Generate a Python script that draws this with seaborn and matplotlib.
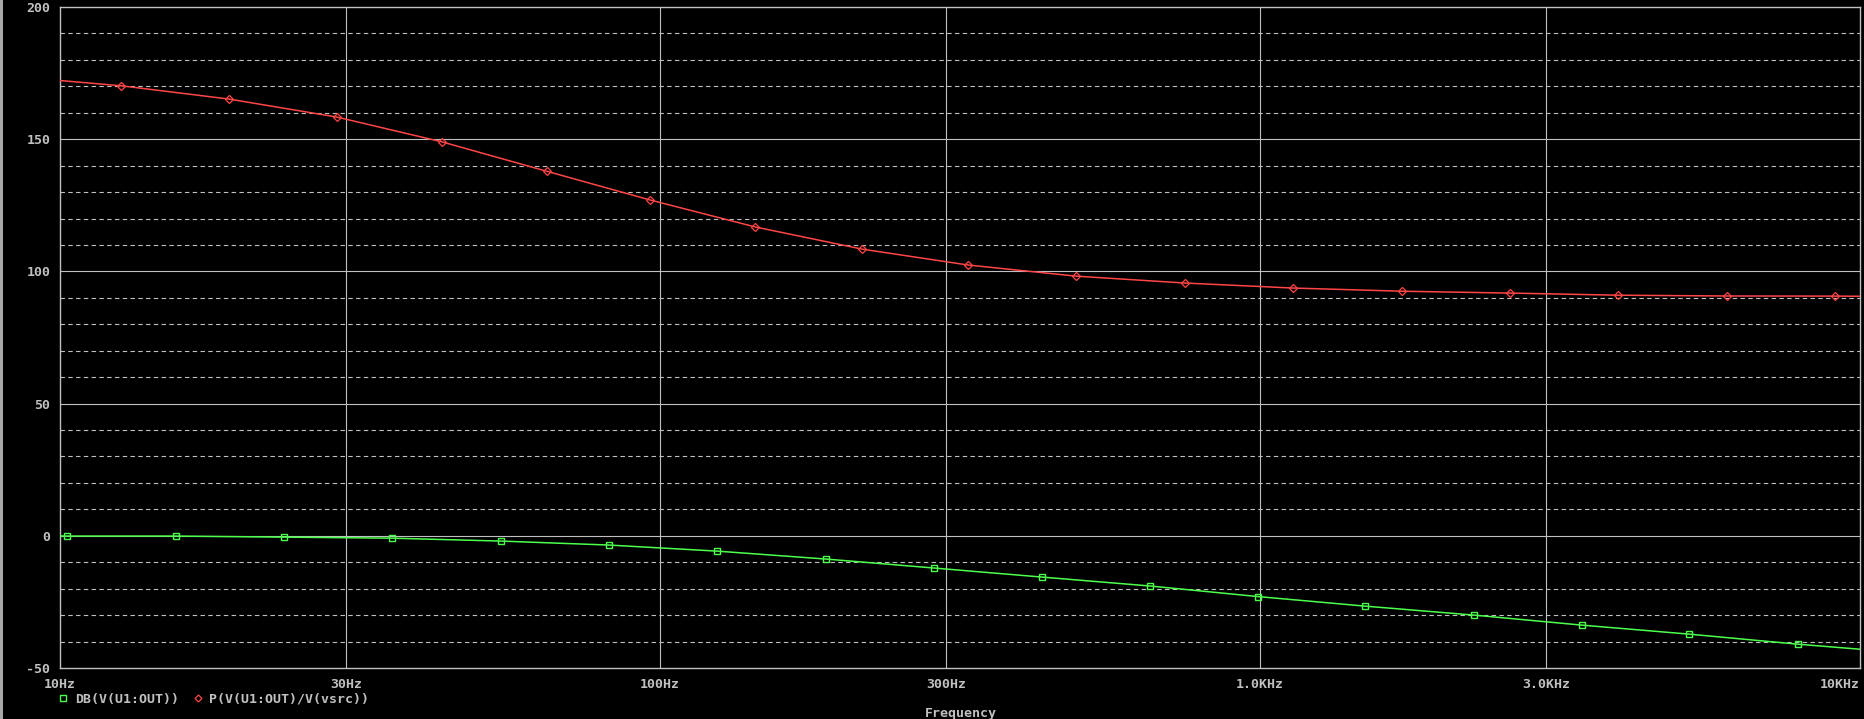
import numpy as np
import pandas as pd
import seaborn as sns
import matplotlib
matplotlib.use("Agg")
import matplotlib.pyplot as plt
from matplotlib.lines import Line2D
from matplotlib.patches import Rectangle
from matplotlib.ticker import FixedLocator, NullLocator

# magnitude trace DB(V(U1:OUT)) (first/last rows are the curve ends)
db_freq = [10, 10.28, 15.6, 23.6, 35.8, 54.4, 82.2, 124.6, 189.2, 286.6, 432.5,
           656.6, 993.6, 1497, 2275, 3446, 5196, 7884, 10000]
db_val = [-0.05, -0.1, -0.1, -0.5, -0.9, -2.0, -3.5, -5.8, -8.8, -12.2, -15.6,
          -19.0, -23.0, -26.6, -30.0, -33.8, -37.2, -41.0, -42.9]

# phase trace P(V(U1:OUT)/V(vsrc))
ph_freq = [10, 12.65, 19.1, 28.9, 43.3, 64.7, 96.3, 144.2, 217.5, 326.6, 494,
           750, 1136, 1725, 2610, 3953, 5998, 9088, 10000]
ph_val = [172.2, 170.2, 165.2, 158.4, 149.0, 137.9, 127.0, 116.8, 108.4, 102.4, 98.2,
          95.6, 93.7, 92.5, 91.8, 91.0, 90.7, 90.65, 90.6]

xtick_vals = [10, 30, 100, 300, 1000, 3000, 10000]
xtick_labels = ["10Hz", "30Hz", "100Hz", "300Hz", "1.0KHz", "3.0KHz", "10KHz"]
ytick_vals = [-50, 0, 50, 100, 150, 200]
legend_labels = ["DB(V(U1:OUT))", "P(V(U1:OUT)/V(vsrc))"]

green = "#4dff4d"
red = "#ff4646"
grey = "#c0c0c0"
mono = "DejaVu Sans Mono"

df_db = pd.DataFrame({"freq": db_freq, "val": db_val})
df_ph = pd.DataFrame({"freq": ph_freq, "val": ph_val})

sns.set_style("dark")
plt.rcParams["font.family"] = [mono]

W, H = 1864, 719
fig = plt.figure(figsize=(W / 100, H / 100), dpi=100, facecolor="black")
ax = fig.add_axes([60 / W, (H - 668) / H, 1800 / W, 661 / H])
ax.set_facecolor("black")

ax.set_xscale("log")
ax.set_xlim(10, 10000)
ax.set_ylim(-50, 200)

# grid: solid major lines, dashed every 10 units on y
for yv in range(-40, 200, 10):
    if yv % 50 != 0:
        ax.axhline(yv, color=grey, lw=0.8, ls=(0, (4, 3)), zorder=1)
for yv in ytick_vals[1:-1]:
    ax.axhline(yv, color=grey, lw=0.8, zorder=1)
for xv in xtick_vals[1:-1]:
    ax.axvline(xv, color=grey, lw=0.8, zorder=1)

sns.lineplot(data=df_db, x="freq", y="val", ax=ax, color=green, lw=1.1,
             marker="s", markersize=4.5, markerfacecolor="none",
             markeredgecolor=green, markeredgewidth=1.0,
             markevery=slice(1, -1), zorder=3, estimator=None)
sns.lineplot(data=df_ph, x="freq", y="val", ax=ax, color=red, lw=1.1,
             marker="D", markersize=4, markerfacecolor="none",
             markeredgecolor=red, markeredgewidth=0.9,
             markevery=slice(1, -1), zorder=3, estimator=None)

ax.xaxis.set_major_locator(FixedLocator(xtick_vals))
ax.xaxis.set_minor_locator(NullLocator())
ax.set_xticklabels(xtick_labels)
ax.set_yticks(ytick_vals)
ax.set_yticklabels([str(v) for v in ytick_vals])
ax.tick_params(axis="both", colors=grey, length=5, width=0.8, direction="out",
               labelsize=9.5, pad=2)
for lab in ax.get_xticklabels() + ax.get_yticklabels():
    lab.set_fontweight("bold")
ax.get_xticklabels()[-1].set_horizontalalignment("right")
ax.get_xticklabels()[-1].set_x(10000)

ax.set_xlabel("")
ax.set_ylabel("")
for sp in ax.spines.values():
    sp.set_visible(True)
    sp.set_color(grey)
    sp.set_linewidth(1.0)
ax.grid(False)

fig.text(961 / W, 1 - 713 / H, "Frequency", color=grey, fontsize=9.5,
         fontweight="bold", ha="center", va="center")

handles = [Line2D([], [], ls="none", marker="s", markersize=4.5, markerfacecolor="none",
                  markeredgecolor=green, markeredgewidth=1.0),
           Line2D([], [], ls="none", marker="D", markersize=3.5, markerfacecolor="none",
                  markeredgecolor=red, markeredgewidth=0.9)]
leg = fig.legend(handles, legend_labels, loc="center left",
                 bbox_to_anchor=(58 / W, 1 - 699 / H), ncol=2, frameon=False,
                 handlelength=0.8, handletextpad=0.5, columnspacing=1.0,
                 borderpad=0, borderaxespad=0, prop={"family": mono, "size": 9.5,
                                                      "weight": "bold"})
for t in leg.get_texts():
    t.set_color(grey)

# grey window edge on the far left
fig.add_artist(Rectangle((0, 0), 3 / W, 1, transform=fig.transFigure,
                         color="#a8a8a8", lw=0))

fig.savefig("out.png", dpi=100, facecolor="black")
